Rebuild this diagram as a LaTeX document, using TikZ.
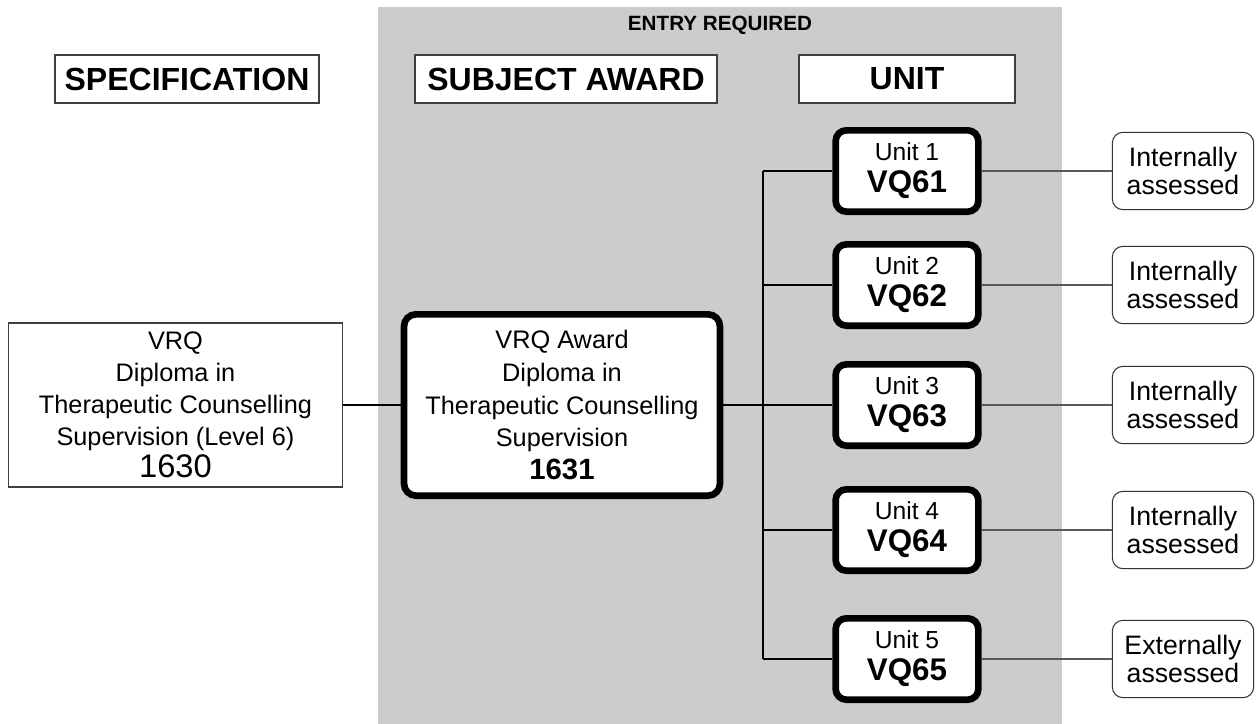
\documentclass[tikz,border=0pt]{standalone}
\usepackage{fontspec}
\setmainfont{Liberation Sans}

\begin{document}
\begin{tikzpicture}[x=0.75pt,y=-0.75pt,
	head/.style={draw=black!75,line width=0.8pt,fill=white,minimum height=36pt,inner sep=0pt,font=\fontsize{24}{28}\selectfont\bfseries},
	spec/.style={draw=black!75,line width=0.8pt,fill=white,align=center,inner sep=0pt,minimum width=251pt,minimum height=123pt,font=\fontsize{19}{24}\selectfont},
	award/.style={draw,line width=5pt,rounded corners=9pt,fill=white,align=center,inner sep=0pt,minimum width=237pt,minimum height=136pt,font=\fontsize{19}{24.5}\selectfont},
	unit/.style={draw,line width=5pt,rounded corners=8pt,fill=white,align=center,inner sep=0pt,minimum width=107pt,minimum height=61pt,font=\fontsize{18.5}{24}\selectfont},
	assess/.style={draw=black!80,line width=0.8pt,rounded corners=8pt,fill=white,align=center,inner sep=0pt,minimum width=106pt,minimum height=58pt,font=\fontsize{20}{20.5}\selectfont},
	bus/.style={line width=2.2pt},
	thin/.style={draw=black!65,line width=0.8pt}]
	\useasboundingbox (0,0) rectangle (1257,724);
	\fill[black!20] (378,7) rectangle (1062,724);
	\node[font=\fontsize{15.5}{18}\selectfont\bfseries] (entry) at (720,25) {ENTRY REQUIRED};
	% column heads
	\node[head,minimum width=198pt] (hspec) at (187,79) {SPECIFICATION};
	\node[head,minimum width=226.5pt] (haward) at (566,79) {SUBJECT AWARD};
	\node[head,minimum width=162pt] (hunit) at (907,79) {UNIT};
	% specification and award
	\node[spec] (spec) at (175.5,405) {VRQ\\Diploma in\\Therapeutic Counselling\\Supervision (Level 6)\\{\fontsize{24.5}{26}\selectfont 1630}};
	\node[award] (award) at (562,405) {VRQ Award\\Diploma in\\Therapeutic Counselling\\Supervision\\{\fontsize{22}{24}\selectfont\bfseries 1631}};
	\draw[bus] (spec) -- (award);
	% units
	\coordinate (trunk) at (763,405);
	\foreach \n/\y/\how in {1/171/Internally,2/285/Internally,3/405/Internally,4/530/Internally,5/659/Externally} {
		\node[unit] (u\n) at (907,\y) {Unit \n\\{\fontsize{23.5}{24}\selectfont\bfseries VQ6\n}};
		\node[assess] (a\n) at (1183,\y) {\how\\assessed};
		\draw[thin] (u\n) -- (a\n);
		\draw[bus] (trunk |- u\n) -- (u\n);
	}
	\draw[bus] (trunk |- u1) -- (trunk |- u5);
	\draw[bus] (award) -- (trunk);
\end{tikzpicture}
\end{document}
